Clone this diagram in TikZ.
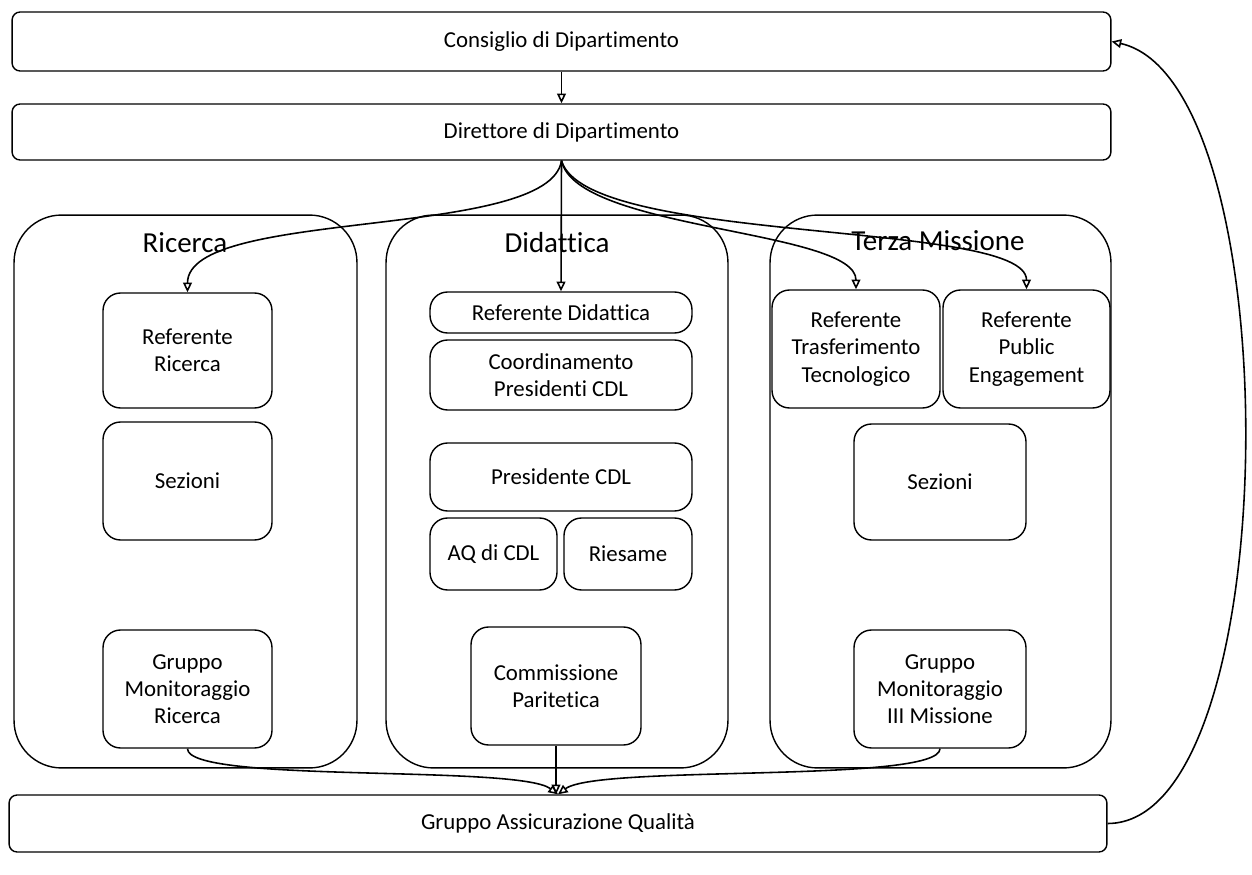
\documentclass[tikz,border=0pt]{standalone}
\usepackage{fontspec}
\setmainfont{Carlito}[Ligatures={NoCommon,NoContextual}, RawFeature={-liga;-clig;-dlig}]
\usetikzlibrary{arrows.meta}
\begin{document}
\begin{tikzpicture}[x=0.02cm, y=-0.02cm,
    bar/.style={draw, line width=0.8pt, rounded corners=0.16cm, inner sep=0pt, font=\fontsize{13}{15.5}\selectfont},
    area/.style={draw, line width=0.8pt, rounded corners=0.95cm, inner sep=0pt, minimum height=11.06cm},
    box/.style={draw, line width=0.8pt, rounded corners=0.35cm, inner sep=0pt, align=center, font=\fontsize{13}{15.5}\selectfont},
    title/.style={font=\fontsize{16.5}{19}\selectfont},
    link/.style={-{Triangle[open,length=5.5pt,width=5pt]}, line width=0.9pt}]
    \useasboundingbox (0,0) rectangle (1252,875);
    % top and bottom bars
    \node[bar, minimum width=21.98cm, minimum height=1.18cm] (cons) at (561.5,41.5) {Consiglio di Dipartimento};
    \node[bar, minimum width=21.98cm, minimum height=1.12cm] (dir) at (561.5,132) {Direttore di Dipartimento};
    \node[bar, minimum width=21.96cm, minimum height=1.14cm] (gaq) at (558,823.5) {Gruppo Assicurazione Qualità};
    % the three areas
    \node[area, minimum width=6.86cm] (ric) at (185.5,491.5) {};
    \node[area, minimum width=6.84cm] (did) at (557,491.5) {};
    \node[area, minimum width=6.82cm] (ter) at (940.5,491.5) {};
    \node[title] (ricT) at (185,243) {Ricerca};
    \node[title] (didT) at (557,243) {Didattica};
    \node[title] (terT) at (938,241) {Terza Missione};
    % Ricerca
    \node[box, minimum width=3.38cm, minimum height=2.3cm] (refric) at (187.5,350.5) {Referente\\Ricerca};
    \node[box, minimum width=3.38cm, minimum height=2.36cm] (sezric) at (187.5,481) {Sezioni};
    \node[box, minimum width=3.38cm, minimum height=2.36cm] (gmric) at (187.5,689) {Gruppo\\Monitoraggio\\Ricerca};
    % Didattica
    \node[box, minimum width=5.24cm, minimum height=0.82cm] (refdid) at (561,312.5) {Referente Didattica};
    \node[box, minimum width=5.24cm, minimum height=1.4cm] (coord) at (561,375) {Coordinamento\\Presidenti CDL};
    \node[box, minimum width=5.24cm, minimum height=1.36cm] (pres) at (561,477) {Presidente CDL};
    \node[box, minimum width=2.54cm, minimum height=1.44cm] (aq) at (493.5,554) {AQ di CDL};
    \node[box, minimum width=2.56cm, minimum height=1.44cm] (ries) at (628,554) {Riesame};
    \node[box, minimum width=3.4cm, minimum height=2.36cm] (comm) at (556,686) {Commissione\\Paritetica};
    % Terza Missione
    \node[box, minimum width=3.36cm, minimum height=2.36cm] (reftt) at (856,349) {Referente\\Trasferimento\\Tecnologico};
    \node[box, minimum width=3.34cm, minimum height=2.36cm] (refpe) at (1026.5,349) {Referente\\Public\\Engagement};
    \node[box, minimum width=3.44cm, minimum height=2.32cm] (sezter) at (940,482) {Sezioni};
    \node[box, minimum width=3.44cm, minimum height=2.36cm] (gmter) at (940,689) {Gruppo\\Monitoraggio\\III Missione};
    % connectors
    \draw[link] (cons.south) -- (dir.north);
    \draw[link] (dir.south) .. controls +(-12,80) and +(0,-85) .. (refric.north);
    \draw[link] (dir.south) -- (refdid.north);
    \draw[link] (dir.south) .. controls +(15,70) and +(0,-60) .. (reftt.north);
    \draw[link] (dir.south) .. controls +(25,85) and +(0,-70) .. (refpe.north);
    \draw[link] (gmric.south) .. controls +(0,35) and +(-40,-30) .. (gaq.north);
    \draw[link] (comm.south) -- (comm.south |- gaq.north);
    \draw[link] (gmter.south) .. controls +(0,35) and +(40,-30) .. (gaq.north);
    \draw[link] (gaq.east) .. controls +(180,0) and +(180,40) .. (cons.east);
\end{tikzpicture}
\end{document}
